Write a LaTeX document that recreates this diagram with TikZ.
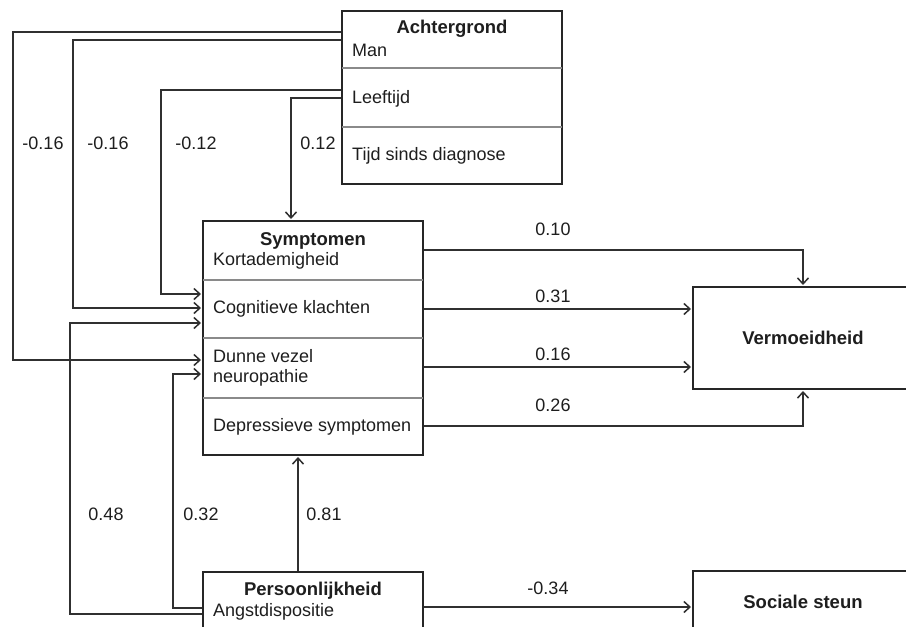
\documentclass[tikz,border=0pt]{standalone}
\usepackage{fontspec}
\setmainfont{Liberation Sans}
\usepackage{tikz}
\usetikzlibrary{arrows.meta, positioning, calc}
\definecolor{boxline}{HTML}{262626}
\definecolor{divgray}{HTML}{8A8A8A}
\definecolor{wireline}{HTML}{303030}
\definecolor{txtdark}{HTML}{1E1E1E}

\begin{document}
\begin{tikzpicture}[
  x=1pt, y=-1pt,
  block/.style={rectangle, draw=boxline, line width=2pt, fill=white, minimum width=220pt, minimum height=#1, inner sep=0pt},
  boxtitle/.style={font=\fontsize{18.5}{20}\selectfont\bfseries, text=txtdark, inner sep=0pt},
  boxitem/.style={font=\fontsize{18}{20}\selectfont, text=txtdark, anchor=west, align=left, inner sep=0pt},
  coef/.style={font=\fontsize{18}{20}\selectfont, text=txtdark, inner sep=0pt},
  divider/.style={divgray, line width=2.2pt, shorten <=1pt, shorten >=1pt},
  arr/.style={-{Straight Barb[length=6pt, width=11pt]}, wireline, line width=1.5pt, shorten >=1pt},
]
  \useasboundingbox (0,0) rectangle (906,627);
  \clip (0,0) rectangle (906,627);
  \fill[white] (0,0) rectangle (906,627);

  % Blocks
  \node[block=173pt] (ach) at (452,97.5) {};
  \node[block=234pt] (sym) at (313,338) {};
  \node[block=80pt] (per) at (313,612) {};
  \node[block=102pt] (verm) at (803,338) {};
  \node[block=62pt] (soc) at (803,602) {};

  % Achtergrond
  \node[boxtitle] (achT) at (452,29) {Achtergrond};
  \node[boxitem] (achMan) at (352,50) {Man};
  \node[boxitem] (achAge) at (352,99) {Leeftijd};
  \node[boxitem] (achTime) at (352,156) {Tijd sinds diagnose};
  \draw[divider] (ach.west |- 0,68) -- (ach.east |- 0,68);
  \draw[divider] (ach.west |- 0,127) -- (ach.east |- 0,127);

  % Symptomen
  \node[boxtitle] (symT) at (313,241) {Symptomen};
  \node[boxitem] (symBreath) at (213,261) {Kortademigheid};
  \node[boxitem] (symCog) at (213,309) {Cognitieve klachten};
  \node[boxitem] (symNeuro) at (213,368) {Dunne vezel\\neuropathie};
  \node[boxitem] (symDep) at (213,427) {Depressieve symptomen};
  \draw[divider] (sym.west |- 0,280) -- (sym.east |- 0,280);
  \draw[divider] (sym.west |- 0,338) -- (sym.east |- 0,338);
  \draw[divider] (sym.west |- 0,398) -- (sym.east |- 0,398);

  % Persoonlijkheid, uitkomsten
  \node[boxtitle] (perT) at (313,591) {Persoonlijkheid};
  \node[boxitem] (perAnx) at (213,612) {Angstdispositie};
  \node[boxtitle] (vermT) at (803,338) {Vermoeidheid};
  \node[boxtitle] (socT) at (803,602) {Sociale steun};

  % Paden naar Symptomen
  \draw[arr] (ach.west |- 0,32) -| (13,360) -- (sym.west |- 0,360);
  \draw[arr] (ach.west |- 0,40) -| (73,308) -- (sym.west |- 0,308);
  \draw[arr] (ach.west |- 0,90) -| (161,294) -- (sym.west |- 0,294);
  \draw[arr] (ach.west |- 0,98) -| (sym.north -| 291,0);
  \draw[arr] (per.west |- 0,614) -| (70,323) -- (sym.west |- 0,323);
  \draw[arr] (per.west |- 0,608) -| (173,374) -- (sym.west |- 0,374);
  \draw[arr] (per.north -| 298,0) -- (sym.south -| 298,0);

  % Paden naar uitkomsten
  \draw[arr] (sym.east |- 0,250) -| (verm.north);
  \draw[arr] (sym.east |- 0,309) -- (verm.west |- 0,309);
  \draw[arr] (sym.east |- 0,367) -- (verm.west |- 0,367);
  \draw[arr] (sym.east |- 0,426) -| (verm.south);
  \draw[arr] (per.east |- 0,607) -- (soc.west |- 0,607);

  % Coefficienten
  \node[coef] (c1) at (43,143) {-0.16};
  \node[coef] (c2) at (108,143) {-0.16};
  \node[coef] (c3) at (196,143) {-0.12};
  \node[coef] (c4) at (318,143) {0.12};
  \node[coef] (c5) at (553,229) {0.10};
  \node[coef] (c6) at (553,296) {0.31};
  \node[coef] (c7) at (553,354) {0.16};
  \node[coef] (c8) at (553,405) {0.26};
  \node[coef] (c9) at (548,588) {-0.34};
  \node[coef] (c10) at (106,514) {0.48};
  \node[coef] (c11) at (201,514) {0.32};
  \node[coef] (c12) at (324,514) {0.81};
\end{tikzpicture}
\end{document}
